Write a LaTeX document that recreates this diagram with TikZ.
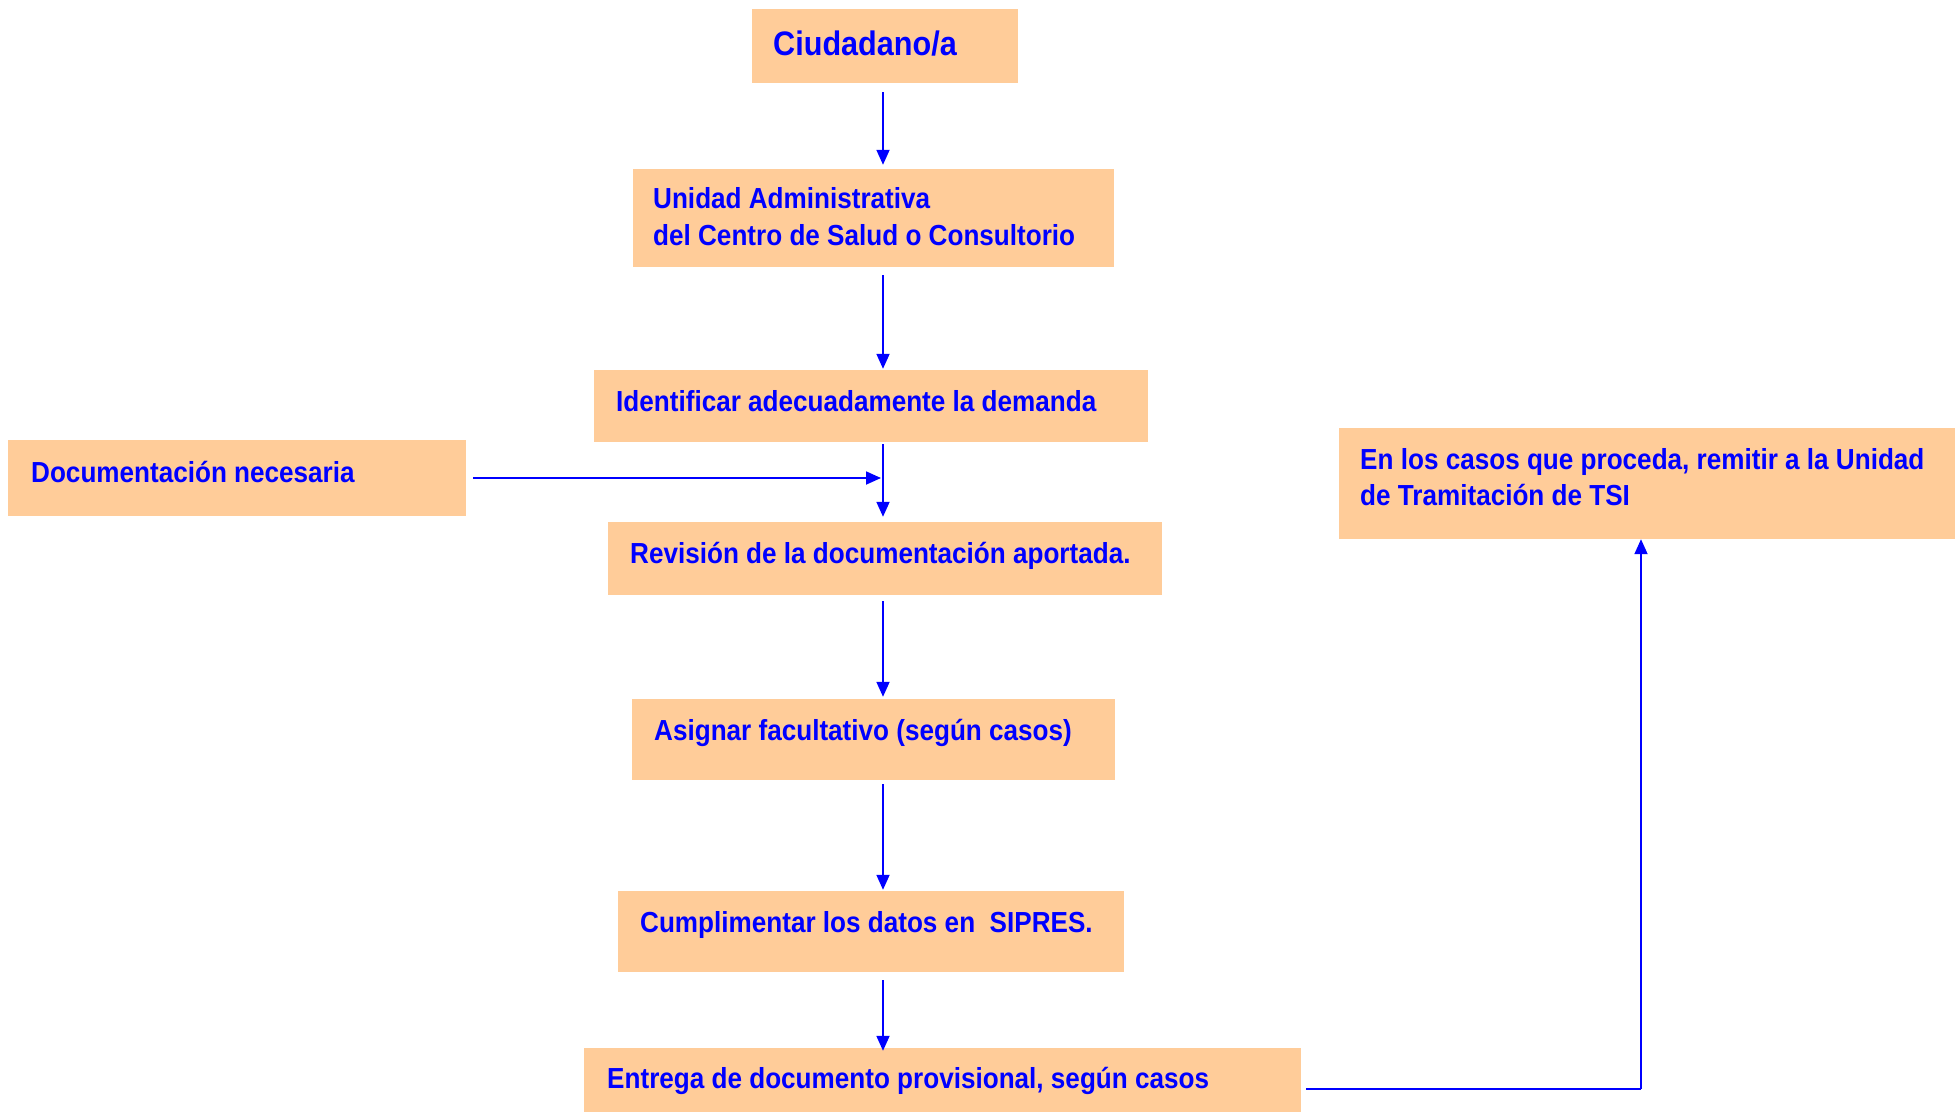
\documentclass[tikz,border=0pt]{standalone}
\usepackage{fontspec}
\setmainfont{Liberation Sans}[FakeStretch=0.9]
\usetikzlibrary{arrows.meta,calc}
\definecolor{peach}{HTML}{FFCC99}
\definecolor{tblue}{HTML}{0000FF}
\tikzset{
  box/.style={fill=peach, draw=none, inner sep=0pt, rectangle},
  txt/.style={text=tblue, inner sep=0pt, font=\fontsize{29}{37}\selectfont\bfseries, align=left},
  arr/.style={draw=tblue, line width=1.8pt, -{Triangle[length=15pt,width=13pt]}},
  ln/.style={draw=tblue, line width=1.8pt}
}
\begin{document}
\begin{tikzpicture}[x=1pt,y=-1pt]
\useasboundingbox (0,0) rectangle (1957,1112);
\coordinate (col) at (883,0);
% boxes
\node[box, minimum width=266pt, minimum height=74pt] (ciu) at (885,46) {};
\node[box, minimum width=481pt, minimum height=98pt] (uni) at (873.5,218) {};
\node[box, minimum width=554pt, minimum height=72pt] (idf) at (871,406) {};
\node[box, minimum width=458pt, minimum height=76pt] (doc) at (237,478) {};
\node[box, minimum width=554pt, minimum height=73pt] (rev) at (885,558.5) {};
\node[box, minimum width=483pt, minimum height=81pt] (asg) at (873.5,739.5) {};
\node[box, minimum width=506pt, minimum height=81pt] (cum) at (871,931.5) {};
\node[box, minimum width=717pt, minimum height=64pt] (ent) at (942.5,1080) {};
\node[box, minimum width=616pt, minimum height=111pt] (tsi) at (1647,483.5) {};
% texts
\node[txt, anchor=base west, font=\fontsize{34}{40}\selectfont\bfseries] (ciut) at (773,55) {Ciudadano/a};
\node[txt, anchor=base west] (unit1) at (653,208) {Unidad Administrativa};
\node[txt, anchor=base west] (unit2) at (653,245) {del Centro de Salud o Consultorio};
\node[txt, anchor=base west] (idft) at (616,411) {Identificar adecuadamente la demanda};
\node[txt, anchor=base west] (doct) at (31,482) {Documentación necesaria};
\node[txt, anchor=base west] (revt) at (630,563) {Revisión de la documentación aportada.};
\node[txt, anchor=base west] (asgt) at (654,740) {Asignar facultativo (según casos)};
\node[txt, anchor=base west] (cumt) at (640,932) {Cumplimentar los datos en\ \ SIPRES.};
\node[txt, anchor=base west] (entt) at (607,1088) {Entrega de documento provisional, según casos};
\node[txt, anchor=base west] (tsit1) at (1360,469) {En los casos que proceda, remitir a la Unidad};
\node[txt, anchor=base west] (tsit2) at (1360,505) {de Tramitación de TSI};
% connectors
\draw[arr] ([yshift=-9pt]ciu.south -| col) -- ([yshift=4pt]uni.north -| col);
\draw[arr] ([yshift=-8pt]uni.south -| col) -- ([yshift=1pt]idf.north -| col);
\draw[arr] ([yshift=-2pt]idf.south -| col) -- ([yshift=5pt]rev.north -| col);
\coordinate (join) at (col |- doc.east);
\draw[arr] ([xshift=7pt]doc.east) -- ([xshift=-2pt]join);
\draw[arr] ([yshift=-6pt]rev.south -| col) -- ([yshift=2pt]asg.north -| col);
\draw[arr] ([yshift=-4pt]asg.south -| col) -- ([yshift=1pt]cum.north -| col);
\draw[arr] ([yshift=-8pt]cum.south -| col) -- ([yshift=-3pt]ent.north -| col);
\coordinate (corner) at (1641,1089);
\draw[ln] ([xshift=5pt]ent.east |- corner) -- (corner);
\draw[arr] (corner) -- (corner |- tsi.south);
\end{tikzpicture}
\end{document}
